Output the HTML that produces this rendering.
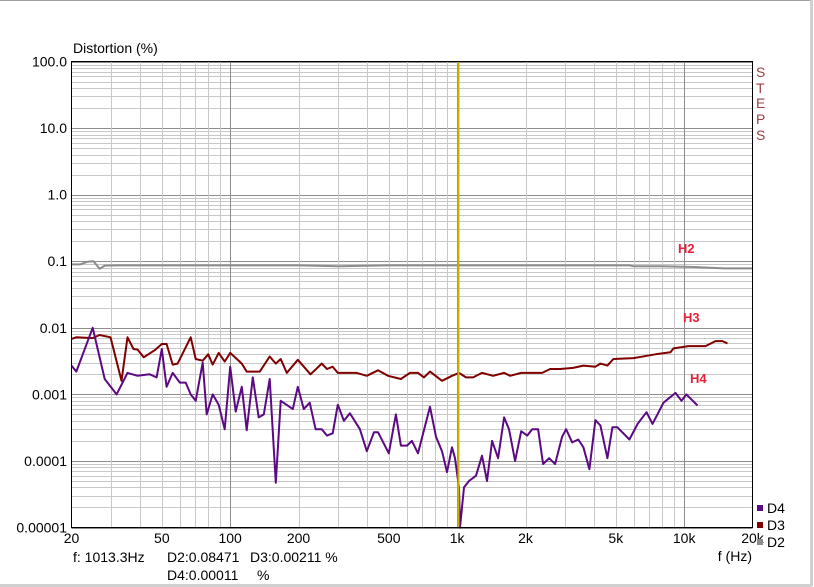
<!DOCTYPE html>
<html><head><meta charset="utf-8"><style>
html,body{margin:0;padding:0;background:#fff;}
svg{display:block;font-family:"Liberation Sans",Arial,sans-serif;}
</style></head><body>
<svg id="chart" width="814" height="587" viewBox="0 0 814 587">
<rect x="0" y="0" width="814" height="587" fill="#fff"/>
<line x1="0" y1="0.5" x2="812" y2="0.5" stroke="#a0a0a0"/>
<line x1="811.5" y1="0" x2="811.5" y2="586" stroke="#d0d0d0" stroke-width="3"/>
<line x1="0" y1="585.5" x2="812" y2="585.5" stroke="#d0d0d0" stroke-width="3"/>
<g id="grid"></g>
<g id="series"></g>
<rect x="71.5" y="61.5" width="681" height="466" fill="none" stroke="#000"/>
<text x="73" y="53" font-size="14" fill="#000">Distortion (%)</text>
<g id="ylabels"></g>
<g id="xlabels"></g>
<text x="752" y="561" font-size="14" text-anchor="end">f (Hz)</text>
<g fill="#a04040" font-size="14">
<text x="756" y="77">S</text><text x="756" y="93">T</text><text x="756" y="108">E</text><text x="756" y="124">P</text><text x="756" y="140">S</text>
</g>
<g font-size="13" font-weight="bold" fill="#e8203c">
<text x="678" y="253">H2</text>
<text x="683" y="322">H3</text>
<text x="690" y="383">H4</text>
</g>
<g font-size="14">
<rect x="757" y="505" width="6" height="6" fill="#5c0a82"/><text x="767" y="513">D4</text>
<rect x="757" y="522" width="6" height="6" fill="#800000"/><text x="767" y="530">D3</text>
<rect x="757" y="539" width="6" height="6" fill="#8c8c8c"/><text x="767" y="547">D2</text>
</g>
<g font-size="14">
<text x="73" y="562">f: 1013.3Hz</text>
<text x="167" y="562">D2:0.08471</text>
<text x="250" y="562">D3:0.00211 %</text>
<text x="167" y="580">D4:0.00011</text>
<text x="257" y="580">%</text>
</g>
</svg>
<script>
const decadesY = [100, 10, 1, 0.1, 0.01, 0.001, 0.0001, 0.00001];
const yTickLabels = ["100.0","10.0","1.0","0.1","0.01","0.001","0.0001","0.00001"];
const xTicks = [20,50,100,200,500,1000,2000,5000,10000,20000];
const xTickLabels = ["20","50","100","200","500","1k","2k","5k","10k","20k"];
const cursorFreq = 1013.3;
const d2Freq = [20,21.8,23.5,25,26.6,28,32,40,50,70,100,200,300,500,1000,5740,6000,8000,11000,15000,20000];
const d2Vals = [0.0895,0.0895,0.098,0.1,0.077,0.086,0.0865,0.0865,0.0865,0.0865,0.0865,0.0865,0.084,0.0865,0.0865,0.0865,0.084,0.084,0.082,0.078,0.078];
const d3Freq = [20,21,24.8,26.6,29.7,33.2,35.3,37.5,39.1,41.6,46.5,50,52.5,55.8,58.7,67,70.5,75.7,80,83.8,89,94.6,100,112.5,118.3,135,149.4,158.9,167,177.6,198.6,226,248,253,267,283,298,361,400,448,496,565,619,672,714,759,857,949,1019,1094,1175,1287,1440,1609,1710,1914,2162,2368,2567,2842,3246,3599,4063,4277,4592,4880,5986,7474,8706,8975,10450,12420,13740,14760,15520];
const d3Vals = [0.0068,0.0072,0.007,0.0078,0.0072,0.0016,0.0072,0.0048,0.0047,0.0036,0.0046,0.0057,0.0057,0.0028,0.0029,0.0072,0.0034,0.0032,0.004,0.0028,0.0042,0.0031,0.0042,0.0029,0.0022,0.0022,0.0037,0.0029,0.0034,0.0021,0.0033,0.002,0.0027,0.0029,0.0024,0.0026,0.0021,0.0021,0.0019,0.0023,0.0019,0.0017,0.0021,0.0021,0.0018,0.0022,0.0016,0.0019,0.0021,0.0018,0.0018,0.0021,0.0019,0.0021,0.0019,0.0021,0.0021,0.0021,0.0024,0.0024,0.0025,0.0027,0.0026,0.0029,0.0027,0.0034,0.0035,0.004,0.0043,0.0049,0.0053,0.0053,0.0063,0.0063,0.0058];
const d4Freq = [20,21,24.8,28,31.6,35.3,39.1,44.2,47.4,50,52.5,55.8,60,63.7,67,70.5,75.7,78.8,83.8,89,94.6,100,105.8,112.5,118.3,125.8,133.6,140.6,149.4,158.9,167,188.8,198.6,211,224,238,253,267,283,298,317,337,373,400,430,448,500,537,565,601,632,672,759,807,857,902,949,978,1019,1029,1072,1128,1211,1287,1354,1425,1514,1609,1692,1800,1914,2034,2141,2273,2392,2541,2701,2900,3020,3213,3417,3599,3823,4063,4277,4592,4831,5082,5740,6235,6826,7250,8110,9162,9731,10230,11450];
const d4Vals = [0.0027,0.0022,0.01,0.0017,0.001,0.0021,0.0019,0.002,0.0018,0.0048,0.0013,0.0021,0.0015,0.0015,0.001,0.0008,0.003,0.0005,0.001,0.0007,0.0003,0.0026,0.00055,0.0013,0.00029,0.0018,0.00045,0.0005,0.0017,0.000047,0.0008,0.0006,0.0013,0.0006,0.00075,0.0003,0.0003,0.00024,0.00026,0.0007,0.0004,0.00052,0.0003,0.00014,0.00027,0.00027,0.00013,0.0005,0.00017,0.00017,0.0002,0.00013,0.00065,0.00023,0.00014,0.000068,0.00016,0.00011,0.00004,0.00001,0.00004,0.00005,0.00006,0.00012,0.00005,0.0002,0.00011,0.00045,0.0003,0.0001,0.00028,0.00024,0.0003,0.0003,0.00009,0.00011,0.00009,0.00023,0.0003,0.00019,0.00021,0.00016,0.000075,0.00041,0.00034,0.00011,0.00032,0.00032,0.00021,0.00036,0.00054,0.00036,0.00075,0.00105,0.0008,0.001,0.00068];

const X0=71.5, X1=752.5, Y0=61.5, Y1=527.5;
const fx = f => X0 + (Math.log10(f) - Math.log10(20)) / 3 * (X1 - X0);
const fy = v => Y0 + (2 - Math.log10(v)) / 7 * (Y1 - Y0);
const NS='http://www.w3.org/2000/svg';
function mk(tag, attrs, parent){const e=document.createElementNS(NS,tag);for(const k in attrs)e.setAttribute(k,attrs[k]);parent.appendChild(e);return e;}
const grid=document.getElementById('grid');
for (let d=0; d<7; d++){
  const base = decadesY[d+1];
  for (let m=2; m<=9; m++){
    const y=Math.round(fy(base*m))+0.5;
    const l=mk('line',{x1:X0,x2:X1,y1:y,y2:y,stroke:'#c8c8c8'},grid);
    
    
  }
}
decadesY.forEach(v=>{
  const y=Math.round(fy(v))+0.5;
  const l=mk('line',{x1:X0,x2:X1,y1:y,y2:y,stroke:'#8c8c8c'},grid);
  
  
});
[10,100,1000,10000].forEach(b=>{
  for(let m=1;m<=9;m++){
    const f=b*m; if(f<=20||f>=20000) continue;
    const x=Math.round(fx(f))+0.5;
    const major=(m===1);
    const l=mk('line',{x1:x,x2:x,y1:Y0,y2:Y1,stroke:major?'#8c8c8c':'#c8c8c8'},grid);
    
    
  }
});
const yl=document.getElementById('ylabels');
decadesY.forEach((v,i)=>{
  const t=mk('text',{x:67,y:fy(v)+5,'font-size':14,'text-anchor':'end'},yl);
  t.textContent=yTickLabels[i];
  
  
});
const xl=document.getElementById('xlabels');
xTicks.forEach((f,i)=>{
  const t=mk('text',{x:fx(f),y:543,'font-size':14,'text-anchor':'middle'},xl);
  t.textContent=xTickLabels[i];
  
  
});
const ser=document.getElementById('series');
function line(fr, vals, color, name){
  const pts=fr.map((f,i)=>fx(f).toFixed(1)+','+fy(vals[i]).toFixed(1)).join(' ');
  const p=mk('polyline',{points:pts,fill:'none',stroke:color,'stroke-width':2,'stroke-linejoin':'round'},ser);
  
  
}
line(d2Freq,d2Vals,'#8c8c8c','d2-line');
line(d3Freq,d3Vals,'#800000','d3-line');
line(d4Freq,d4Vals,'#5c0a82','d4-line');
const cx=fx(cursorFreq);
const c=mk('line',{x1:cx,x2:cx,y1:Y0,y2:Y1,stroke:'#c8b400','stroke-width':2},ser);


</script>
</body></html>
